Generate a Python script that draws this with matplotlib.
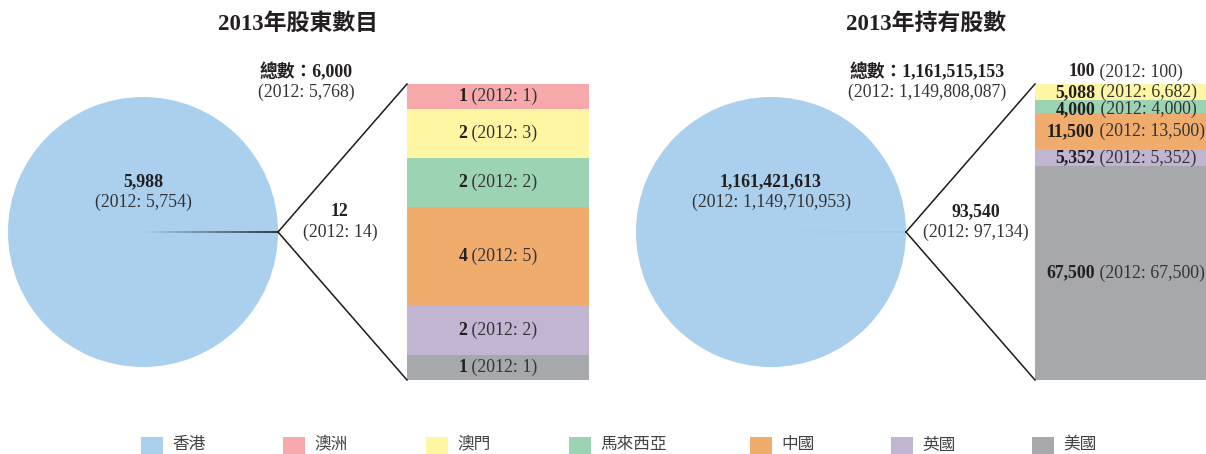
import matplotlib
matplotlib.use('Agg')
import matplotlib.pyplot as plt
from matplotlib.patches import Rectangle

plt.rcParams['font.family'] = ['Liberation Serif', 'Noto Sans CJK TC', 'DejaVu Sans']

regions = ['香港', '澳洲', '澳門', '馬來西亞', '中國', '英國', '美國']
colors = ['#aad0ee', '#f6a8ab', '#fff6a4', '#9cd3b2', '#f0ac6d', '#c1b5d2', '#a7a8ab']

# shareholders
holders_2013 = [5988, 1, 2, 2, 4, 2, 1]
holders_2012 = [5754, 1, 3, 2, 5, 2, 1]
holders_total = (6000, 5768)

# shares held
shares_2013 = [1161421613, 100, 5088, 4000, 11500, 5352, 67500]
shares_2012 = [1149710953, 100, 6682, 4000, 13500, 5352, 67500]
shares_total = (1161515153, 1149808087)

W, H = 1206, 454
fig = plt.figure(figsize=(W / 100, H / 100), dpi=100)
ax = fig.add_axes([0, 0, 1, 1])

DARK = '#231f20'
TXT = '#333333'
FS = 12.8


def y(py):
    # pixel row -> data y
    return H - py


def two_line(x, py, bold, normal, gap=20):
    ax.text(x, y(py), bold, ha='center', va='center', fontsize=FS,
            fontweight='bold', color=DARK)
    ax.text(x, y(py + gap), normal, ha='center', va='center', fontsize=FS,
            color=TXT)


def panel(cx, title, vals, prev, total, bar_x, bar_w, bar_top, bar_bot,
          tot_x, other_x):
    r = 135
    cy = y(232)
    small = sum(vals[1:])
    ang = small / (small + vals[0]) * 360
    wedges, _ = ax.pie([small, vals[0]], colors=['#222222', colors[0]],
                       center=(cx, cy), radius=r, startangle=-ang / 2,
                       counterclock=True, wedgeprops=dict(linewidth=0),
                       frame=True)
    # make the tiny slice visible
    wedges[0].set_edgecolor('#222222')
    wedges[0].set_linewidth(1.2)

    ax.text(cx + 155, y(24), title, ha='center', va='center', fontsize=16.5,
            fontweight='bold', color=DARK)

    two_line(cx, 182, f'{vals[0]:,}', f'(2012: {prev[0]:,})')
    two_line(other_x, 212, f'{sum(vals[1:]):,}', f'(2012: {sum(prev[1:]):,})')
    two_line(tot_x, 72, f'總數：{total[0]:,}', f'(2012: {total[1]:,})')

    # connector lines
    ax.plot([cx + r, bar_x], [cy, y(bar_top)], color='#1a1a1a', lw=1.1)
    ax.plot([cx + r, bar_x], [cy, y(bar_bot)], color='#1a1a1a', lw=1.1)

    # stacked bar of the small slice
    scale = (bar_bot - bar_top) / small
    top = y(bar_top)
    for v, c in zip(vals[1:], colors[1:]):
        h = v * scale
        ax.bar(bar_x, h, width=bar_w, bottom=top - h, align='edge', color=c,
               linewidth=0)
        top -= h


def bar_labels(bar_x, bar_w, bar_top, bar_bot, vals, prev, outside_py=None):
    small = sum(vals)
    scale = (bar_bot - bar_top) / small
    # label rows in pixels, pushed apart where segments are thin
    rows = []
    top = bar_top
    for v in vals:
        h = v * scale
        mid = top + h / 2
        if h < 5 and outside_py is not None:
            mid = outside_py
        elif rows and mid - rows[-1] < 17 and rows[-1] > bar_top:
            mid = rows[-1] + 17
        elif rows and mid - rows[-1] < 17:
            mid = max(mid, bar_top + 9)
        rows.append(mid)
        top += h

    renderer = fig.canvas.get_renderer()
    for v, p, row in zip(vals, prev, rows):
        # bold value followed by normal text, centred together
        tb = ax.text(0, 0, f'{v:,}', fontsize=FS, fontweight='bold', color=DARK,
                     va='center', ha='left')
        tn = ax.text(0, 0, f' (2012: {p:,})', fontsize=FS, color=TXT,
                     va='center', ha='left')
        wb = tb.get_window_extent(renderer).width
        wn = tn.get_window_extent(renderer).width
        x0 = bar_x + bar_w / 2 - (wb + wn) / 2
        tb.set_position((x0, y(row)))
        tn.set_position((x0 + wb, y(row)))


panel(143, '2013年股東數目', holders_2013, holders_2012, holders_total,
      407, 182, 84, 380, 306, 340)
panel(771, '2013年持有股數', shares_2013, shares_2012, shares_total,
      1035, 182, 84, 380, 927, 976)

ax.set_xlim(0, W)
ax.set_ylim(0, H)
ax.set_aspect('auto')
ax.axis('off')

bar_labels(407, 182, 84, 380, holders_2013[1:], holders_2012[1:])
bar_labels(1035, 182, 84, 380, shares_2013[1:], shares_2012[1:], outside_py=72)

# legend along the bottom
leg_x = [141, 283, 426, 569, 750, 891, 1032]
for lx, name, c in zip(leg_x, regions, colors):
    ax.add_patch(Rectangle((lx, 0), 22, 17, color=c, linewidth=0))
    ax.text(lx + 31, y(445), name, ha='left', va='center', fontsize=12,
            family=['Noto Sans CJK TC'], color='#444444')

fig.savefig('out.png', dpi=100)
